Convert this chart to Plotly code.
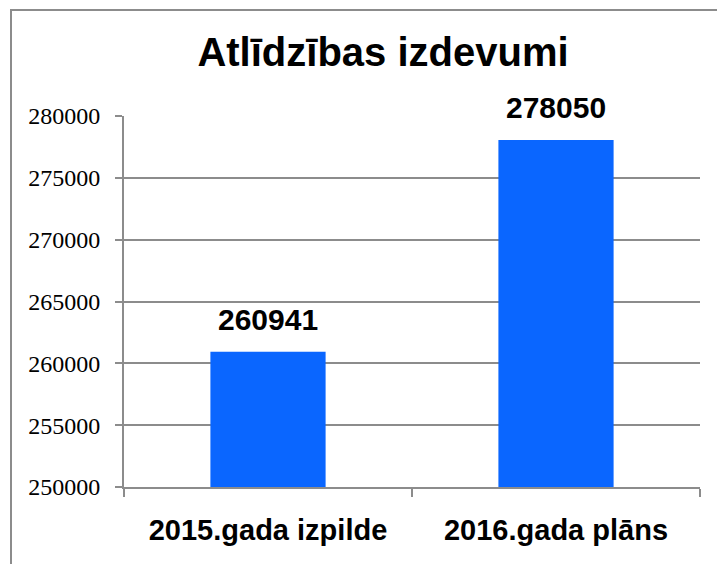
import plotly.graph_objects as go

categories = ["2015.gada izpilde", "2016.gada plāns"]
values = [260941, 278050]
tick_vals = [250000, 255000, 260000, 265000, 270000, 275000, 280000]
tick_text = ["250000", "255000", "260000", "265000", "270000", "275000", "280000"]
title_text = "Atlīdzības izdevumi"

W, H = 717, 564
L, R, T, B = 124, 17, 116, 77
pw, ph = W - L - R, H - T - B

SANS = "Liberation Sans, Arial, sans-serif"
SERIF = "Times New Roman, Liberation Serif, DejaVu Serif, serif"

fig = go.Figure()
fig.add_trace(go.Bar(
    x=categories, y=values,
    marker=dict(color="#0A66FF", line=dict(width=0)),
    width=0.4,
    hoverinfo="x+y",
))

for c, v in zip(categories, values):
    fig.add_annotation(
        x=c, y=v, text=f"<b>{v}</b>", showarrow=False,
        yanchor="bottom", yshift=14,
        font=dict(family=SANS, size=30, color="black"),
    )

def px_to_paper_x(px):
    return (px - L) / pw

def px_to_paper_y(py):
    return (H - B - py) / ph

fig.add_shape(
    type="rect", xref="paper", yref="paper",
    x0=px_to_paper_x(11), x1=px_to_paper_x(W + 10),
    y0=px_to_paper_y(H + 10), y1=px_to_paper_y(10),
    line=dict(color="#8c8c8c", width=2), fillcolor="rgba(0,0,0,0)", layer="below",
)

fig.update_layout(
    width=W, height=H,
    margin=dict(l=L, r=R, t=T, b=B, autoexpand=False),
    paper_bgcolor="white", plot_bgcolor="white",
    showlegend=False,
    title=dict(
        text=f"<b>{title_text}</b>", xref="container", yref="container",
        x=383 / W, xanchor="center", y=1 - 52 / H, yanchor="middle",
        font=dict(family=SANS, size=40, color="black"),
    ),
    xaxis=dict(
        type="category", showgrid=False,
        showline=True, linecolor="#8c8c8c", linewidth=2,
        ticks="outside", tickson="boundaries", ticklen=8, tickcolor="#8c8c8c", tickwidth=2,
        tickfont=dict(family=SANS, size=29, color="black"),
        tickprefix="<b>", ticksuffix="</b>",
        ticklabelstandoff=16,
    ),
    yaxis=dict(
        range=[250000, 280000],
        tickvals=tick_vals, ticktext=tick_text,
        showgrid=True, gridcolor="#8c8c8c", gridwidth=2,
        showline=True, linecolor="#8c8c8c", linewidth=2,
        ticks="outside", ticklen=7, tickcolor="#8c8c8c", tickwidth=2,
        tickfont=dict(family=SERIF, size=24, color="black"),
        ticklabelstandoff=10,
        zeroline=False,
    ),
)

fig.write_html(
    "out.html",
    config={"displayModeBar": False},
    post_script="document.body.style.margin='0';document.body.style.overflow='hidden';",
)
